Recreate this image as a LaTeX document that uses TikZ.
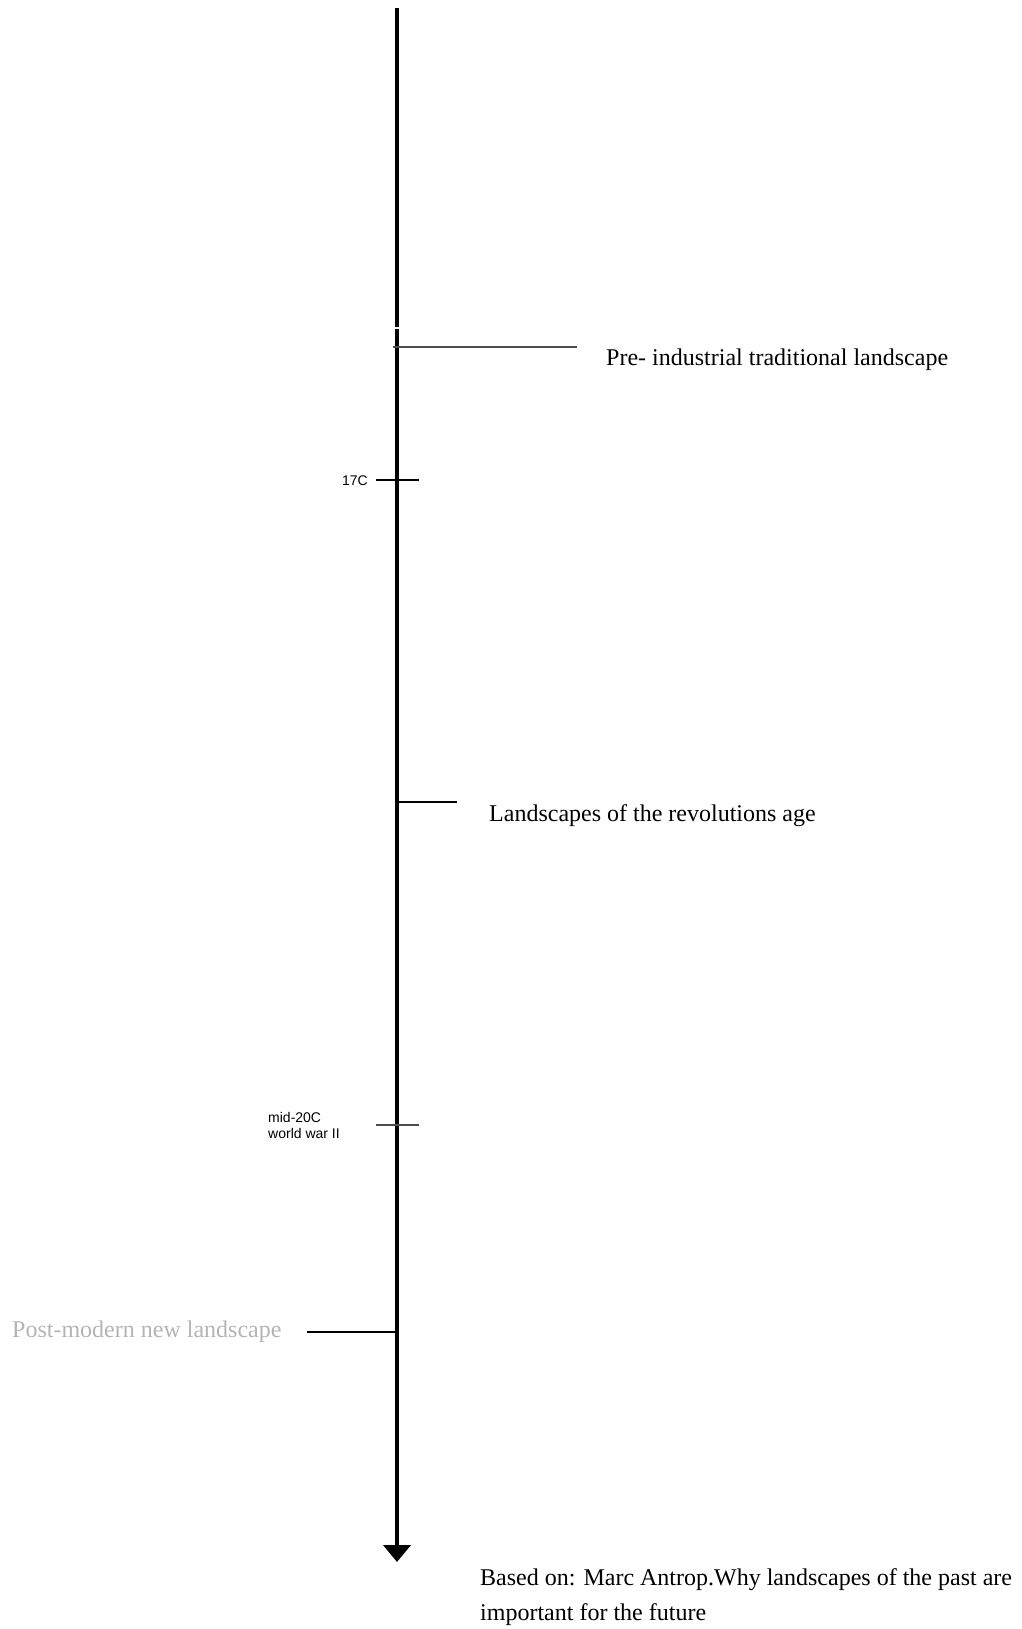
\documentclass[tikz,border=0pt]{standalone}
\usepackage{fontspec}
\setmainfont{Liberation Serif}
\newfontfamily\labelsans{Liberation Sans}
\usetikzlibrary{arrows.meta}
\definecolor{tickgray}{gray}{0.3}
\definecolor{faded}{RGB}{180,180,180}
\tikzset{
  axis/.style={line width=4pt, -{Triangle[width=27pt,length=17pt]}},
  axistop/.style={line width=4pt},
  tickline/.style={line width=1.3pt, draw=tickgray},
  era/.style={inner sep=0pt, anchor=base west, font=\fontsize{24}{29}\selectfont},
  datelabel/.style={inner sep=0pt, font=\labelsans\fontsize{14}{16.5}\selectfont},
  source/.style={inner sep=0pt, anchor=north west, align=left, font=\fontsize{24}{35.5}\selectfont}
}
\begin{document}
\begin{tikzpicture}[x=1pt,y=-1pt]
\useasboundingbox (0,0) rectangle (1021,1629);
% axis
\coordinate (top) at (397,8);
\coordinate (gapA) at (397,326.5);
\coordinate (gapB) at (397,328.5);
\coordinate (bottom) at (397,1562);
\draw[axistop] (top) -- (gapA);
\draw[axis] (gapB) -- (bottom);
% pre-industrial
\coordinate (preL) at (393,347);
\coordinate (preR) at (577,347);
\draw[tickline] (preL) -- (preR);
\node[era] (pre) at (606,365) {Pre- industrial traditional landscape};
% 17C
\coordinate (c17L) at (376,480);
\coordinate (c17R) at (419,480);
\draw[line width=1.3pt] (c17L) -- (c17R);
\node[datelabel, anchor=east] (c17) at (368,481) {17C};
% revolutions
\coordinate (revL) at (397,802);
\coordinate (revR) at (457,802);
\draw[line width=1.3pt] (revL) -- (revR);
\node[era] (rev) at (489,821) {Landscapes of the revolutions age};
% mid-20C
\coordinate (m20L) at (376,1125);
\coordinate (m20R) at (419,1125);
\draw[tickline] (m20L) -- (m20R);
\node[datelabel, anchor=north west, align=left] (m20) at (268,1112) {mid-20C\\world war II};
% post-modern
\coordinate (postL) at (307,1332);
\coordinate (postR) at (397,1332);
\draw[line width=1.3pt] (postL) -- (postR);
\node[era, text=faded] (post) at (12,1337) {Post-modern new landscape};
% source
\node[source] (src) at (480,1568) {Based on: Marc Antrop.Why landscapes of the past are\\important for the future};
\end{tikzpicture}
\end{document}
